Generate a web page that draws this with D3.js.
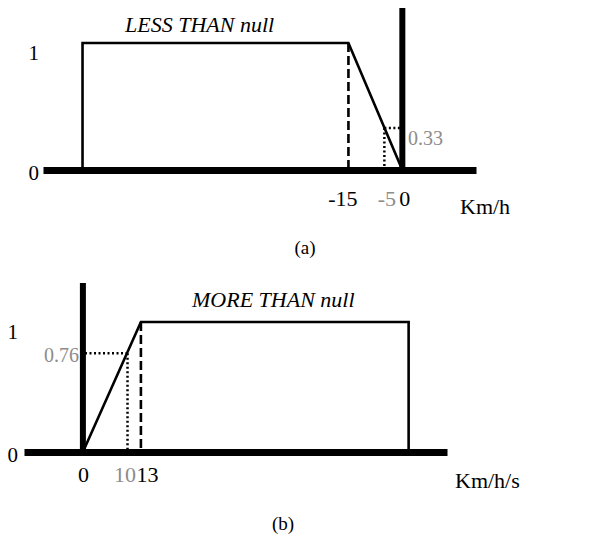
<!DOCTYPE html>
<html>
<head>
<meta charset="utf-8">
<script src="https://cdn.jsdelivr.net/npm/d3@7"></script>
<style>
  body { margin: 0; background: #fff; }
  svg { display: block; font-family: "Liberation Serif", "Times New Roman", serif; }
</style>
</head>
<body>
<script>
// Panel (a): LESS THAN null membership function
var lessX = [-89, -89, -15, 0];
var lessY = [0, 1, 1, 0];
var lessTicks = [-15, -5, 0];
var lessProbe = [-5, 0.33];

// Panel (b): MORE THAN null membership function
var moreX = [0, 13, 73, 73];
var moreY = [0, 1, 1, 0];
var moreTicks = [0, 10, 13];
var moreProbe = [10, 0.76];

var yTicks = [0, 1];

var svg = d3.select("body").append("svg")
    .attr("width", 607)
    .attr("height", 538);

// draw one panel; cfg holds layout only
var drawPanel = function (cfg) {
    var x = d3.scaleLinear().domain(cfg.domain).range([cfg.left, cfg.right]);
    var y = d3.scaleLinear().domain([0, 1]).range([cfg.base, cfg.top]);
    var g = svg.append("g");

    // thick horizontal axis = domain path of a d3 axis
    var xAxis = g.append("g")
        .attr("transform", "translate(0," + cfg.base + ")")
        .call(d3.axisBottom(x).tickValues(cfg.ticks).tickSize(0).tickPadding(cfg.tickPad)
            .tickFormat(function (d) { return String(d); }));
    xAxis.select(".domain").attr("stroke", "#000").attr("stroke-width", 7);
    xAxis.selectAll(".tick text")
        .attr("font-family", "Liberation Serif")
        .attr("font-size", 22)
        .attr("fill", function (d) { return d === cfg.probe[0] ? "#8c8c8c" : "#000"; })
        .attr("dx", function (d, i) { return cfg.tickShift[i]; });

    // y labels on the far left ("1" sits a bit below its level in the original)
    var yAxis = g.append("g")
        .attr("transform", "translate(" + cfg.yLabelX + ",0)")
        .call(d3.axisLeft(y).tickValues(yTicks).tickSize(0).tickPadding(0)
            .tickFormat(d3.format("d")));
    yAxis.select(".domain").remove();
    yAxis.selectAll(".tick text")
        .attr("font-family", "Liberation Serif")
        .attr("font-size", 21)
        .attr("fill", "#000")
        .attr("dy", function (d) { return d === 1 ? "0.8em" : "0.45em"; });

    // thick vertical axis at x = 0
    g.append("line")
        .attr("x1", x(0)).attr("x2", x(0))
        .attr("y1", cfg.axisTop).attr("y2", cfg.base + 3)
        .attr("stroke", "#000").attr("stroke-width", 6);

    // membership polyline
    var pts = cfg.xs.map(function (v, i) { return [x(v), y(cfg.ys[i])]; });
    g.append("path")
        .attr("d", d3.line()(pts))
        .attr("fill", "none").attr("stroke", "#000").attr("stroke-width", 2.6);

    // dashed line under the corner
    g.append("line")
        .attr("x1", x(cfg.corner)).attr("x2", x(cfg.corner))
        .attr("y1", y(1)).attr("y2", y(0))
        .attr("stroke", "#000").attr("stroke-width", 2.6)
        .attr("stroke-dasharray", "9,4");

    // dotted probe lines
    var px = x(cfg.probe[0]), py = y(cfg.probe[1]);
    g.append("line")
        .attr("x1", px).attr("x2", px).attr("y1", py).attr("y2", y(0))
        .attr("stroke", "#000").attr("stroke-width", 2.5).attr("stroke-dasharray", "2,2.5");
    g.append("line")
        .attr("x1", px).attr("x2", x(0)).attr("y1", py).attr("y2", py)
        .attr("stroke", "#000").attr("stroke-width", 2.5).attr("stroke-dasharray", "2,2.5");
    g.append("text")
        .attr("x", cfg.probeLabelX).attr("y", py + cfg.probeLabelDy)
        .attr("dy", "0.35em")
        .attr("text-anchor", cfg.probeAnchor)
        .attr("font-size", 20)
        .attr("fill", "#8c8c8c")
        .text(d3.format(".2f")(cfg.probe[1]));

    // title
    g.append("text")
        .attr("x", cfg.titleX).attr("y", cfg.titleY)
        .attr("font-size", 22).attr("font-style", "italic")
        .text(cfg.title);

    // unit
    g.append("text")
        .attr("x", cfg.unitX).attr("y", cfg.unitY)
        .attr("font-size", 22)
        .text(cfg.unit);

    // caption
    g.append("text")
        .attr("x", cfg.capX).attr("y", cfg.capY)
        .attr("text-anchor", "middle")
        .attr("font-size", 19)
        .text(cfg.caption);
};

drawPanel({
    domain: [-100, 20.5], left: 43, right: 476, base: 170, top: 43, axisTop: 8,
    xs: lessX, ys: lessY, ticks: lessTicks, probe: lessProbe, corner: -15,
    tickPad: 20, tickShift: [-6, 2, 2],
    yLabelX: 39, probeLabelX: 408, probeLabelDy: 10, probeAnchor: "start",
    title: "LESS THAN null", titleX: 125, titleY: 32,
    unit: "Km/h", unitX: 460, unitY: 214,
    caption: "(a)", capX: 305, capY: 254
});

drawPanel({
    domain: [-13.2, 81.6], left: 24, right: 447, base: 452, top: 322, axisTop: 283,
    xs: moreX, ys: moreY, ticks: moreTicks, probe: moreProbe, corner: 13,
    tickPad: 14, tickShift: [0, -3, 6],
    yLabelX: 18, probeLabelX: 79, probeLabelDy: 2, probeAnchor: "end",
    title: "MORE THAN null", titleX: 192, titleY: 307,
    unit: "Km/h/s", unitX: 455, unitY: 488,
    caption: "(b)", capX: 283, capY: 530
});
</script>
</body>
</html>
